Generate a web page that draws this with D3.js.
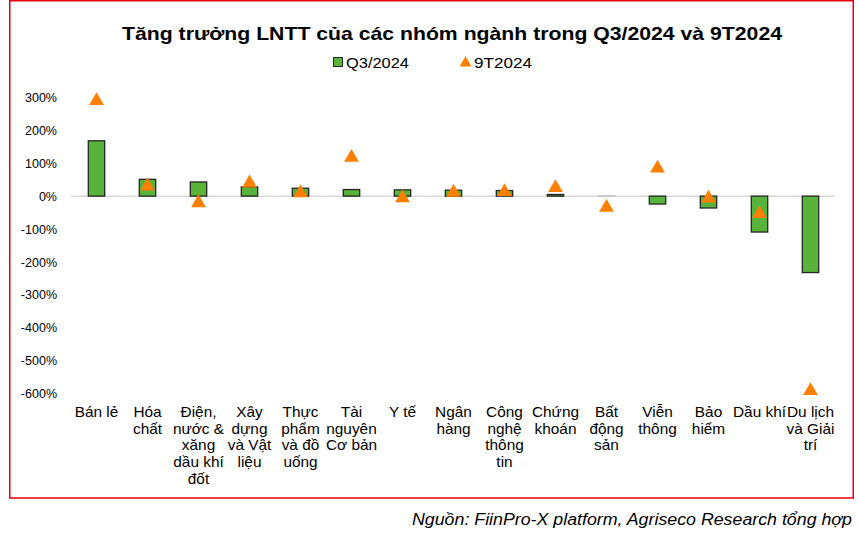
<!DOCTYPE html>
<html>
<head>
<meta charset="utf-8">
<script src="https://cdn.jsdelivr.net/npm/d3@7"></script>
<style>
  html, body { margin: 0; padding: 0; background: #fff; }
  svg { display: block; font-family: "Liberation Sans", Arial, sans-serif; }
</style>
</head>
<body>
<svg id="chart" width="860" height="538"></svg>
<script>
// ---- data ----
const categories = [
  ["Bán lẻ"],
  ["Hóa", "chất"],
  ["Điện,", "nước &", "xăng", "dầu khí", "đốt"],
  ["Xây", "dựng", "và Vật", "liệu"],
  ["Thực", "phẩm", "và đồ", "uống"],
  ["Tài", "nguyên", "Cơ bản"],
  ["Y tế"],
  ["Ngân", "hàng"],
  ["Công", "nghệ", "thông", "tin"],
  ["Chứng", "khoán"],
  ["Bất", "động", "sản"],
  ["Viễn", "thông"],
  ["Bảo", "hiểm"],
  ["Dầu khí"],
  ["Du lịch", "và Giải", "trí"]
];
const q3_2024 = [168, 51, 43, 28, 24, 20, 19, 18, 17, 5, 1, -24, -36, -109, -232];
const t9_2024 = [294, 35, -16, 44, 14, 122, -1, 16, 18, 30, -30, 89, -2, -49, -586];
const yTicks = [300, 200, 100, 0, -100, -200, -300, -400, -500, -600];
const seriesNames = ["Q3/2024", "9T2024"];
const titleText = "Tăng trưởng LNTT của các nhóm ngành trong Q3/2024 và 9T2024";
const sourceText = "Nguồn: FiinPro-X platform, Agriseco Research tổng hợp";

// ---- layout ----
const svg = d3.select("#chart");
const green = "#58B33A", orange = "#FF7F00";
const sx = 1.1; // horizontal stretch of the reference's text

// frame
svg.append("rect").attr("x", 9.75).attr("y", 0.75).attr("width", 843.5).attr("height", 497.25)
  .attr("fill", "none").attr("stroke", "#E1000F").attr("stroke-width", 1.5);

const ids = categories.map((d, i) => i);
const x = d3.scaleBand().domain(ids).range([71, 836]).paddingInner(0).paddingOuter(0);
const y = d3.scaleLinear().domain([-600, 300]).range([393.8, 97.3]);
const barW = 16.4;

// title
svg.append("text").attr("x", 452).attr("y", 40).attr("text-anchor", "middle")
  .attr("font-size", 19).attr("font-weight", "bold").attr("fill", "#000")
  .attr("textLength", 660).attr("lengthAdjust", "spacingAndGlyphs").text(titleText);

// legend
const lg = svg.append("g");
lg.append("rect").attr("x", 333.5).attr("y", 57.5).attr("width", 9).attr("height", 9)
  .attr("fill", green).attr("stroke", "#262626").attr("stroke-width", 1);
lg.append("text").attr("x", 346).attr("y", 68).attr("font-size", 15.5)
  .attr("textLength", 63).attr("lengthAdjust", "spacingAndGlyphs").text(seriesNames[0]);
lg.append("path").attr("d", d3.symbol().type(d3.symbolTriangle).size(60)())
  .attr("transform", "translate(465.5,63)").attr("fill", orange);
lg.append("text").attr("x", 474).attr("y", 68).attr("font-size", 15.5)
  .attr("textLength", 58).attr("lengthAdjust", "spacingAndGlyphs").text(seriesNames[1]);

// y axis labels
const yAxis = d3.axisLeft(y).tickValues(yTicks).tickSize(0).tickPadding(0)
  .tickFormat(d => d + "%");
const ya = svg.append("g").attr("transform", "translate(57,0)").call(yAxis);
ya.select(".domain").remove();
ya.selectAll("text").attr("font-size", 12.5).attr("font-family", "Liberation Sans, Arial, sans-serif")
  .attr("fill", "#000");

// zero line
svg.append("line").attr("x1", 71).attr("x2", 835).attr("y1", y(0)).attr("y2", y(0))
  .attr("stroke", "#D9D9D9").attr("stroke-width", 1.5);

// bars
svg.append("g").selectAll("rect").data(q3_2024).join("rect")
  .attr("x", (d, i) => x(i) + x.bandwidth() / 2 - barW / 2)
  .attr("y", d => Math.min(y(d), y(0)))
  .attr("width", barW)
  .attr("height", d => Math.abs(y(d) - y(0)))
  .attr("fill", green)
  .attr("stroke", d => Math.abs(d) < 2 ? "#C8C8C8" : "#262626")
  .attr("stroke-width", 1.3);

// triangles
const tri = d3.symbol().type(d3.symbolTriangle).size(95)();
svg.append("g").selectAll("path").data(t9_2024).join("path")
  .attr("d", tri)
  .attr("transform", (d, i) => `translate(${x(i) + x.bandwidth() / 2},${y(d) + 1.5})`)
  .attr("fill", orange);

// category labels
const cl = svg.append("g");
categories.forEach((lines, i) => {
  const cx = x(i) + x.bandwidth() / 2;
  const t = cl.append("text").attr("text-anchor", "middle").attr("font-size", 14).attr("fill", "#000")
    .attr("transform", `translate(${cx},0) scale(${sx},1)`);
  lines.forEach((ln, j) => {
    t.append("tspan").attr("x", 0).attr("y", 417 + j * 16.7).text(ln);
  });
});

// source
svg.append("text").attr("x", 852).attr("y", 525).attr("text-anchor", "end")
  .attr("font-size", 16).attr("font-style", "italic").attr("fill", "#000")
  .attr("textLength", 440).attr("lengthAdjust", "spacingAndGlyphs").text(sourceText);
</script>
</body>
</html>
